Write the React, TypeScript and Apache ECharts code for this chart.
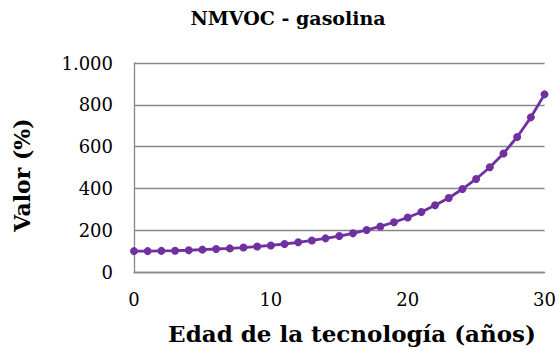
import React, { useEffect, useRef } from "react";
import * as echarts from "echarts";

const years: number[] = Array.from({ length: 31 }, (_, i) => i);
const values: number[] = [
  100, 100, 101, 102, 104, 107, 110, 113, 117, 122, 127, 134, 142, 151, 161,
  172, 185, 201, 218, 238, 261, 287, 319, 354, 397, 445, 501, 567, 646, 740, 850,
];
const titleText = "NMVOC - gasolina";
const xTitle = "Edad de la tecnología (años)";
const yTitle = "Valor (%)";

const fmtY = (v: number) => {
  if (v >= 1000) {
    const s = String(Math.round(v));
    return s.slice(0, s.length - 3) + "." + s.slice(s.length - 3);
  }
  return String(v);
};

export default function App() {
  const ref = useRef<HTMLDivElement>(null);
  useEffect(() => {
    if (!ref.current) return;
    const chart = echarts.init(ref.current, undefined, { renderer: "svg" });
    const font = "'DejaVu Serif', 'Liberation Serif', serif";
    chart.setOption({
      animation: false,
      backgroundColor: "#ffffff",
      grid: { left: 134, right: 14, top: 63, bottom: 84 },
      graphic: [
        {
          type: "text",
          x: 288,
          y: 18,
          style: {
            text: titleText,
            fontFamily: font,
            fontWeight: "bold",
            fontSize: 19,
            fill: "#000",
            textAlign: "center",
            textVerticalAlign: "middle",
          },
        },
        {
          type: "text",
          x: 352,
          y: 333,
          style: {
            text: xTitle,
            fontFamily: font,
            fontWeight: "bold",
            fontSize: 23,
            fill: "#000",
            textAlign: "center",
            textVerticalAlign: "middle",
          },
        },
        {
          type: "text",
          x: 22,
          y: 175,
          rotation: Math.PI / 2,
          style: {
            text: yTitle,
            fontFamily: font,
            fontWeight: "bold",
            fontSize: 22,
            fill: "#000",
            textAlign: "center",
            textVerticalAlign: "middle",
          },
        },
      ],
      xAxis: {
        type: "value",
        min: 0,
        max: 30,
        interval: 10,
        axisLine: { show: true, lineStyle: { color: "#878787", width: 1.3 } },
        axisTick: { show: false },
        splitLine: { show: false },
        axisLabel: { fontFamily: font, fontSize: 18, color: "#000", margin: 18 },
      },
      yAxis: {
        type: "value",
        min: 0,
        max: 1000,
        interval: 200,
        axisLine: { show: true, lineStyle: { color: "#878787", width: 1.3 } },
        axisTick: { show: false },
        splitLine: { show: true, lineStyle: { color: "#878787", width: 1.3 } },
        axisLabel: { fontFamily: font, fontSize: 18, color: "#000", margin: 21, formatter: fmtY },
      },
      series: [
        {
          type: "line",
          data: years.map((y, i) => [y, values[i]]),
          symbol: "circle",
          symbolSize: 8,
          lineStyle: { color: "#7030A0", width: 2.8 },
          itemStyle: { color: "#7030A0" },
        },
      ],
    });
    return () => chart.dispose();
  }, []);
  return (
    <div
      ref={ref}
      style={{ position: "fixed", left: 0, top: 0, width: 559, height: 356 }}
    />
  );
}
